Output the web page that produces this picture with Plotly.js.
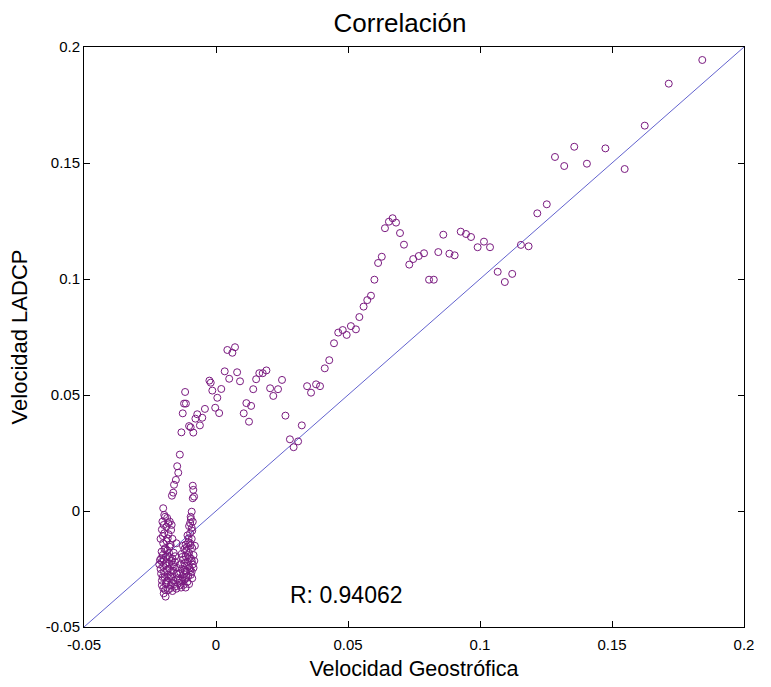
<!DOCTYPE html>
<html><head><meta charset="utf-8">
<script src="https://cdn.plot.ly/plotly-3.0.1.min.js"></script>
<style>body{margin:0;background:#fff}#plot{width:771px;height:687px}</style>
</head><body><div id="plot"></div>
<script>
// Velocidad Geostrófica (x) vs Velocidad LADCP (y)
const geoX = [
 0.1842,0.1715,0.1624,0.1548,0.1475,0.1405,0.1357,0.1319,0.1284,0.1253,0.1217,0.1184,0.1155,0.1122,0.1094,0.1067,
 0.1038,0.1015,0.0991,0.0966,0.0947,0.0927,0.0904,0.0884,0.0861,0.0842,0.0825,0.0807,0.0788,0.0768,0.0747,0.0732,
 0.0712,0.0697,0.0682,0.0669,0.0655,0.0640,0.0628,0.0614,0.0600,0.0587,0.0573,0.0559,0.0543,0.0530,0.0511,0.0495,
 0.0480,0.0463,0.0447,0.0429,0.0412,0.0394,0.0379,0.0360,0.0345,0.0325,0.0311,0.0294,0.0280,0.0263,0.0250,0.0235,
 0.0217,0.0205,0.0191,0.0177,0.0164,0.0152,0.0141,0.0133,0.0115,0.0105,0.0125,
 0.0091,0.0080,0.0072,0.0062,0.0050,0.0043,0.0033,0.0020,0.0012,0.0005,-0.0003,-0.0014,-0.0020,-0.0025,
 -0.0042,-0.0052,-0.0061,-0.0071,-0.0078,-0.0086,-0.0096,-0.0102,-0.0114,-0.0117,-0.0121,-0.0126,-0.0131,
 -0.0137,-0.0147,-0.0143,-0.0152,-0.0159,-0.0162,-0.0167
];
const ladcpY = [
 0.1944,0.1842,0.1661,0.1474,0.1563,0.1497,0.1570,0.1487,0.1526,0.1322,0.1283,0.1141,0.1147,0.1022,0.0987,0.1031,
 0.1137,0.1161,0.1137,0.1181,0.1194,0.1204,0.1102,0.1109,0.1191,0.1116,0.0997,0.0997,0.1111,0.1099,0.1086,0.1062,
 0.1148,0.1198,0.1243,0.1262,0.1247,0.1219,0.1096,0.1069,0.0997,0.0928,0.0909,0.0881,0.0836,0.0783,0.0797,0.0759,
 0.0780,0.0769,0.0723,0.0650,0.0615,0.0538,0.0546,0.0510,0.0538,0.0369,0.0300,0.0275,0.0309,0.0411,0.0565,0.0525,
 0.0496,0.0529,0.0606,0.0594,0.0594,0.0568,0.0525,0.0453,0.0465,0.0421,0.0385,
 0.0559,0.0598,0.0706,0.0682,0.0570,0.0694,0.0602,0.0526,0.0422,0.0488,0.0445,0.0519,0.0553,0.0562,
 0.0440,0.0402,0.0369,0.0417,0.0398,0.0338,0.0361,0.0366,0.0463,0.0513,0.0463,0.0421,0.0339,
 0.0243,0.0193,0.0165,0.0134,0.0113,0.0079,0.0066
];
// dense cluster near x ≈ -0.02 … -0.008
const clusterX = [
 -0.0200,-0.0196,-0.0203,-0.0188,-0.0175,-0.0170,-0.0196,-0.0183,-0.0200,-0.0176,-0.0150,-0.0206,-0.0190,-0.0212,
 -0.0176,-0.0160,-0.0200,-0.0185,-0.0170,-0.0208,-0.0195,-0.0178,-0.0160,-0.0205,-0.0190,-0.0172,-0.0155,-0.0200,
 -0.0182,-0.0165,-0.0191,-0.0198,-0.0210,-0.0188,-0.0165,-0.0155,-0.0148,-0.0150,-0.0145,-0.0160,-0.0178,-0.0192,
 -0.0210,-0.0205,-0.0185,-0.0198,-0.0180,-0.0165,-0.0168,-0.0202,-0.0215,-0.0198,-0.0172,-0.0185,-0.0168,-0.0205,
 -0.0140,-0.0150,-0.0135,-0.0140,
 -0.0193,-0.0181,-0.0201,-0.0187,-0.0172,-0.0195,-0.0183,-0.0168,-0.0205,-0.0191,-0.0178,-0.0163,-0.0197,-0.0183,
 -0.0166,-0.0202,-0.0188,-0.0175,-0.0193,-0.0158,-0.0208,-0.0175,-0.0162,-0.0185,-0.0155,
 -0.0088,-0.0086,-0.0083,-0.0088,-0.0092,-0.0096,-0.0088,-0.0098,-0.0092,-0.0098,-0.0104,-0.0098,-0.0110,-0.0090,
 -0.0120,-0.0102,-0.0085,-0.0115,-0.0095,-0.0125,-0.0108,-0.0088,-0.0118,-0.0100,-0.0130,-0.0112,-0.0092,-0.0122,
 -0.0105,-0.0090,-0.0118,-0.0128,-0.0108,-0.0122,-0.0132,-0.0115,-0.0100,-0.0112,-0.0105,-0.0092,-0.0080,-0.0082,
 -0.0130,-0.0135,-0.0125,
 -0.0095,-0.0102,-0.0090,-0.0108,-0.0096,-0.0115,-0.0106,-0.0092,-0.0120,-0.0098,-0.0112,-0.0095,-0.0125,-0.0135,
 -0.0118,-0.0105,-0.0128,-0.0085,-0.0102,-0.0138
];
const clusterY = [
 0.0012,-0.0017,-0.0046,-0.0068,-0.0046,-0.0082,-0.0096,-0.0118,-0.0139,-0.0154,-0.0139,-0.0175,-0.0197,-0.0211,
 -0.0225,-0.0180,-0.0240,-0.0255,-0.0262,-0.0270,-0.0285,-0.0290,-0.0300,-0.0300,-0.0315,-0.0320,-0.0326,-0.0333,
 -0.0341,-0.0345,-0.0369,-0.0355,-0.0250,-0.0225,-0.0205,-0.0220,-0.0245,-0.0270,-0.0290,-0.0240,-0.0180,-0.0160,
 -0.0120,-0.0080,-0.0030,-0.0060,-0.0100,-0.0120,-0.0060,-0.0190,-0.0230,-0.0210,-0.0280,-0.0300,-0.0310,-0.0320,
 -0.0310,-0.0335,-0.0320,-0.0270,
 -0.0025,-0.0052,-0.0108,-0.0130,-0.0145,-0.0165,-0.0192,-0.0215,-0.0218,-0.0233,-0.0248,-0.0258,-0.0262,-0.0275,
 -0.0283,-0.0285,-0.0308,-0.0335,-0.0340,-0.0315,-0.0205,-0.0200,-0.0230,-0.0170,-0.0195,
 0.0109,0.0091,0.0062,0.0055,-0.0003,-0.0025,-0.0046,-0.0052,-0.0073,-0.0096,-0.0118,-0.0139,-0.0154,-0.0160,
 -0.0165,-0.0180,-0.0190,-0.0195,-0.0205,-0.0210,-0.0220,-0.0230,-0.0235,-0.0245,-0.0250,-0.0260,-0.0262,-0.0272,
 -0.0280,-0.0290,-0.0295,-0.0300,-0.0305,-0.0318,-0.0330,-0.0330,-0.0200,-0.0170,-0.0135,-0.0120,-0.0150,-0.0215,
 -0.0185,-0.0230,-0.0150,
 -0.0035,-0.0065,-0.0085,-0.0105,-0.0148,-0.0145,-0.0190,-0.0215,-0.0225,-0.0255,-0.0285,-0.0275,-0.0285,-0.0265,
 -0.0255,-0.0238,-0.0198,-0.0245,-0.0315,-0.0300
];
const fitLine = [-0.05, 0.2];
const tickVals = [-0.05, 0, 0.05, 0.1, 0.15, 0.2];
const tickText = ["-0.05", "0", "0.05", "0.1", "0.15", "0.2"];
const rText = "R: 0.94062";

const font = "Liberation Sans, Arial, sans-serif";
const mcol = '#7a1a80';
const traces = [
  {x: fitLine, y: fitLine, mode: 'lines', line: {color: '#5050c8', width: 0.9}, hoverinfo: 'skip'},
  {x: geoX.concat(clusterX), y: ladcpY.concat(clusterY), mode: 'markers', type: 'scatter',
   marker: {symbol: 'circle-open', size: 7, color: mcol, line: {width: 1, color: mcol}}}
];
const axisCommon = {
  range: [-0.05, 0.2], tickvals: tickVals, ticktext: tickText,
  showline: true, mirror: 'ticks', linecolor: '#000', linewidth: 1,
  ticks: 'inside', ticklen: 6, tickcolor: '#000', showgrid: false, zeroline: false,
  tickfont: {family: font, size: 15, color: '#000'}
};
const layout = {
  width: 771, height: 687,
  margin: {l: 84, r: 27, t: 47, b: 60},
  paper_bgcolor: '#fff', plot_bgcolor: '#fff',
  showlegend: false,
  title: {text: 'Correlación', font: {family: font, size: 26, color: '#000'}, x: 400/771, xanchor: 'center', xref: 'container', y: 0.967, yanchor: 'middle'},
  xaxis: Object.assign({}, axisCommon, {ticklabelstandoff: 4, title: {text: 'Velocidad Geostrófica', font: {family: font, size: 21.5, color: '#000'}, standoff: 8}}),
  yaxis: Object.assign({}, axisCommon, {title: {text: 'Velocidad LADCP', font: {family: font, size: 22, color: '#000'}, standoff: 12}}),
  annotations: [{x: 0.0495, y: -0.0362, xref: 'x', yref: 'y', text: rText, showarrow: false,
    font: {family: font, size: 23, color: '#000'}}]
};
Plotly.newPlot('plot', traces, layout, {displayModeBar: false, staticPlot: true});
</script></body></html>
